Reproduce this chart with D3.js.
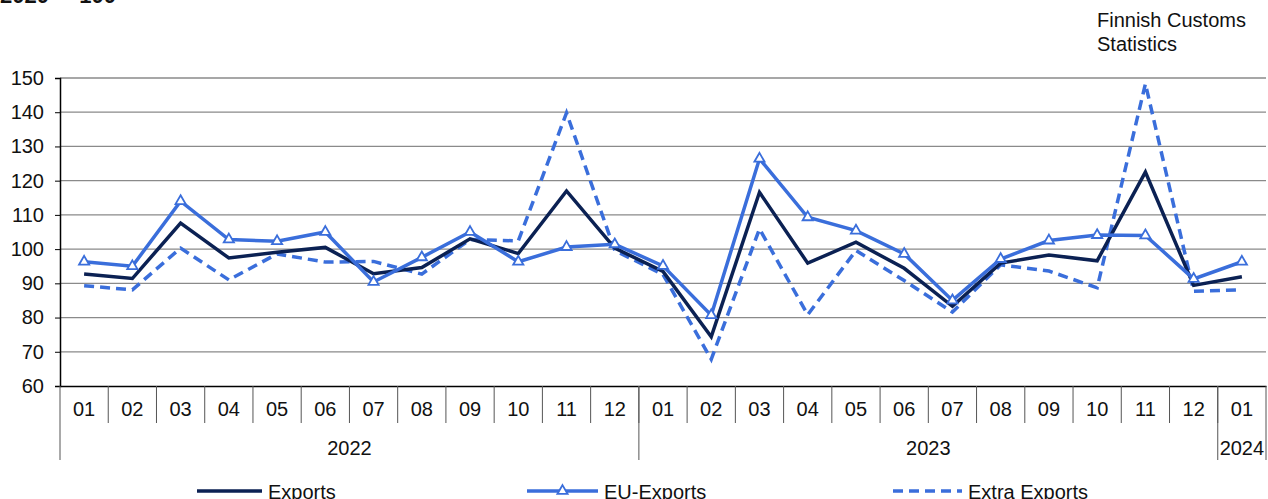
<!DOCTYPE html>
<html><head><meta charset="utf-8">
<script src="https://cdn.jsdelivr.net/npm/d3@7"></script>
<style>
html,body{margin:0;padding:0;background:#fff;}
svg{display:block;font-family:"Liberation Sans",Arial,sans-serif;}
</style></head>
<body>
<svg id="chart" width="1268" height="499"></svg>
<script>
const months = ["01","02","03","04","05","06","07","08","09","10","11","12",
                "01","02","03","04","05","06","07","08","09","10","11","12","01"];
const years = [{label:"2022", start:0, count:12},{label:"2023", start:12, count:12},{label:"2024", start:24, count:1}];
const exportsVals = [92.7,91.4,107.6,97.4,99.1,100.5,92.8,94.6,103.0,98.7,117.0,100.3,
                     93.5,74.4,116.6,95.9,102.0,94.4,83.3,95.9,98.3,96.6,122.5,89.4,91.9];
const euVals      = [96.3,95.0,114.0,102.8,102.3,105.0,90.4,97.6,105.0,96.3,100.6,101.4,
                     95.1,80.7,126.4,109.3,105.4,98.6,85.0,97.1,102.5,104.1,104.0,91.3,96.3];
const extraVals   = [89.3,88.1,100.3,91.0,98.6,96.2,96.4,92.7,102.8,102.4,139.8,99.6,
                     92.6,67.8,105.9,80.8,99.6,90.8,81.6,95.4,93.6,88.7,148.3,87.7,88.1];
const yTicks = [60,70,80,90,100,110,120,130,140,150];
const seriesNames = ["Exports","EU-Exports","Extra Exports"];

const svg = d3.select("#chart");
const L = 60, R = 1266, T = 78, B = 386;
const FS = 20;
const idx = d3.range(months.length);
const x = d3.scaleBand().domain(idx).range([L, R]).padding(0);
const y = d3.scaleLinear().domain([60,150]).range([B, T]);
const navy = "#0b2153", blue = "#3a6edb";

// top texts
svg.append("text").attr("x",0).attr("y",3).attr("font-size",22).attr("font-weight","bold")
  .attr("fill","#111").text("2020 =");
svg.append("text").attr("x",116).attr("y",3).attr("font-size",22).attr("font-weight","bold")
  .attr("text-anchor","end").attr("fill","#111").text("100");
svg.append("text").attr("x",1097).attr("y",27).attr("font-size",FS).attr("fill","#111").text("Finnish Customs");
svg.append("text").attr("x",1097).attr("y",51).attr("font-size",FS).attr("fill","#111").text("Statistics");

// gridlines
svg.append("g").selectAll("line").data(yTicks.filter(d=>d>60)).join("line")
  .attr("x1",L).attr("x2",R).attr("y1",d=>y(d)).attr("y2",d=>y(d))
  .attr("stroke","#8a8a8a").attr("stroke-width",1.3);

// y axis
const yAxis = svg.append("g").attr("transform",`translate(${L},0)`)
  .call(d3.axisLeft(y).tickValues(yTicks).tickSize(5).tickPadding(11).tickFormat(d3.format("d")));
yAxis.select(".domain").attr("stroke","#000").attr("stroke-width",1.5);
yAxis.selectAll(".tick line").attr("stroke","#000");
yAxis.selectAll("text").attr("font-size",FS).attr("fill","#111").attr("font-family","Liberation Sans, Arial, sans-serif");

// x axis
const xAxis = svg.append("g").attr("transform",`translate(0,${B})`)
  .call(d3.axisBottom(x).tickSize(0).tickPadding(16).tickFormat(i=>months[i]));
xAxis.select(".domain").attr("stroke","#000").attr("stroke-width",1.5);
xAxis.selectAll("text").attr("font-size",FS).attr("fill","#111").attr("font-family","Liberation Sans, Arial, sans-serif");

// month separators
svg.append("g").selectAll("line").data(idx.slice(1)).join("line")
  .attr("x1",i=>x(i)).attr("x2",i=>x(i)).attr("y1",B).attr("y2",B+37)
  .attr("stroke","#555").attr("stroke-width",1);
// year separators
const yearEdges = years.map(d=>d.start).concat([months.length]);
svg.append("g").selectAll("line").data(yearEdges).join("line")
  .attr("x1",i=> i===months.length ? R : x(i)).attr("x2",i=> i===months.length ? R : x(i))
  .attr("y1",B).attr("y2",B+74).attr("stroke","#555").attr("stroke-width",1);
// year labels
svg.append("g").selectAll("text").data(years).join("text")
  .attr("x",d=>{const a=x(d.start); const b=(d.start+d.count)>=months.length?R:x(d.start+d.count); return (a+b)/2;})
  .attr("y",455).attr("text-anchor","middle").attr("font-size",FS).attr("fill","#111").text(d=>d.label);

// lines
const line = d3.line().x((d,i)=>x(i)+x.bandwidth()/2).y(d=>y(d));
svg.append("path").datum(extraVals).attr("d",line).attr("fill","none")
  .attr("stroke",blue).attr("stroke-width",3.5).attr("stroke-dasharray","10,6");
svg.append("path").datum(exportsVals).attr("d",line).attr("fill","none")
  .attr("stroke",navy).attr("stroke-width",3.5);
svg.append("path").datum(euVals).attr("d",line).attr("fill","none")
  .attr("stroke",blue).attr("stroke-width",3.5);
const tri = d3.symbol().type(d3.symbolTriangle).size(45);
svg.append("g").selectAll("path").data(euVals).join("path")
  .attr("d",tri).attr("transform",(d,i)=>`translate(${x(i)+x.bandwidth()/2},${y(d)})`)
  .attr("fill","#fff").attr("stroke",blue).attr("stroke-width",1.8);

// legend
const legend = [
  {name:seriesNames[0], x1:197, x2:262, color:navy, dash:null, marker:false},
  {name:seriesNames[1], x1:527, x2:598, color:blue, dash:null, marker:true},
  {name:seriesNames[2], x1:893, x2:962, color:blue, dash:"10,6", marker:false}
];
const lg = svg.append("g");
legend.forEach(d=>{
  lg.append("line").attr("x1",d.x1).attr("x2",d.x2).attr("y1",491).attr("y2",491)
    .attr("stroke",d.color).attr("stroke-width",3.5).attr("stroke-dasharray",d.dash);
  if(d.marker) lg.append("path").attr("d",tri).attr("transform",`translate(${(d.x1+d.x2)/2},491)`)
    .attr("fill","#fff").attr("stroke",d.color).attr("stroke-width",1.8);
  lg.append("text").attr("x",d.x2+6).attr("y",499).attr("font-size",FS).attr("fill","#111").text(d.name);
});
</script>
</body></html>
